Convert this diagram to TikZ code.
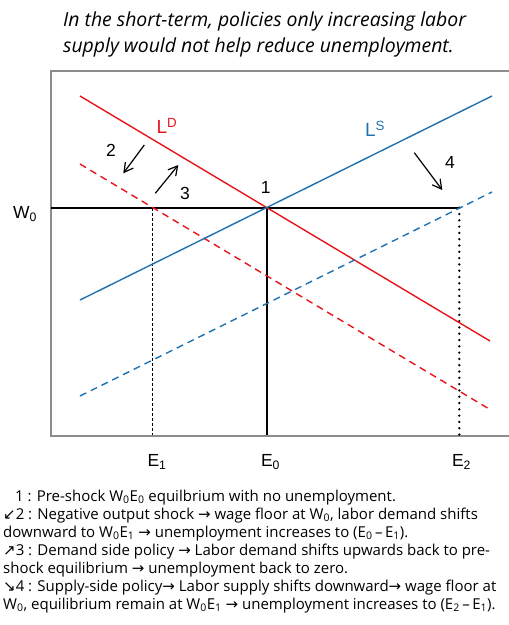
\documentclass[tikz,border=0pt]{standalone}
\usepackage{fontspec}
\setmainfont{Open Sans}
\newfontfamily\lab{Liberation Sans}
\newfontfamily\sym{DejaVu Sans}
\usetikzlibrary{arrows.meta}
\definecolor{ldred}{HTML}{E8141B}
\definecolor{lsblue}{HTML}{1F72B0}
\definecolor{axgray}{HTML}{8C8C8C}
\tikzset{
  curve/.style={line width=1.4pt},
  dcurve/.style={line width=1.4pt, dash pattern=on 7pt off 5pt},
  shiftarrow/.style={line width=1.2pt, -{Straight Barb[length=9pt,width=10pt]}},
  plab/.style={font=\lab\fontsize{17.5}{20}\selectfont, inner sep=0pt},
  note/.style={font=\fontsize{15}{18}\selectfont, anchor=base west, inner sep=0pt},
  ttl/.style={font=\itshape\fontsize{19.4}{23}\selectfont, anchor=base west, inner sep=0pt}
}
\begin{document}
\begin{tikzpicture}[x=1pt,y=-1pt]
\useasboundingbox (0,0) rectangle (509,625);
% title
\node[ttl] (t1) at (63,26) {In the short-term, policies only increasing labor};
\node[ttl] (t2) at (63,52) {supply would not help reduce unemployment.};
% frame
\coordinate (tl) at (50.5,70.5);
\coordinate (tr) at (509,70.5);
\coordinate (bl) at (50.5,436);
\coordinate (br) at (509,436);
\draw[axgray, line width=2pt] (tr) -- (tl) -- (bl) -- (br);
% key points
\coordinate (w0) at (50.5,207.7);
\coordinate (p1) at (266.7,207.7);
\coordinate (pE1) at (152.3,207.7);
\coordinate (pE2) at (459.3,207.7);
\coordinate (bE1) at (152.3,435);
\coordinate (bE0) at (266.7,435);
\coordinate (bE2) at (459.3,435);
% curves
\coordinate (lda) at (80,96);   \coordinate (ldb) at (490,341);
\coordinate (ldda) at (80,164); \coordinate (lddb) at (490,409.5);
\coordinate (lsa) at (80,300);  \coordinate (lsb) at (492,96);
\coordinate (lsda) at (80,396); \coordinate (lsdb) at (492,192);
\draw[black, line width=1.6pt] (w0) -- (pE2);
\draw[black, line width=1.2pt, dash pattern=on 3pt off 2pt] (pE1) -- (bE1);
\draw[black, line width=1.6pt] (p1) -- (bE0);
\draw[black, line width=2.6pt, line cap=round, dash pattern=on 0pt off 6.3pt] (pE2) -- (bE2);
\draw[ldred, curve] (lda) -- (ldb);
\draw[ldred, dcurve] (ldda) -- (lddb);
\draw[lsblue, curve] (lsa) -- (lsb);
\draw[lsblue, dcurve] (lsda) -- (lsdb);
% labels
\node[plab, text=ldred, font=\lab\fontsize{19}{22}\selectfont] (LD) at (167,126) {L\textsuperscript{D}};
\node[plab, text=lsblue, font=\lab\fontsize{19}{22}\selectfont] (LS) at (375,129) {L\textsuperscript{S}};
\node[plab] (W0) at (25,214) {W\textsubscript{0}};
\node[plab] (n1) at (265.7,187) {1};
\node[plab] (n2) at (111,150) {2};
\node[plab] (n3) at (185,193) {3};
\node[plab] (n4) at (450,162) {4};
\node[plab] (E1) at (157,462) {E\textsubscript{1}};
\node[plab] (E0) at (270.5,462) {E\textsubscript{0}};
\node[plab] (E2) at (461.5,462) {E\textsubscript{2}};
% arrows
\coordinate (a2s) at (144.3,145); \coordinate (a2e) at (123.3,173.3);
\coordinate (a3s) at (155.3,193.3); \coordinate (a3e) at (178.3,165);
\coordinate (a4s) at (414.3,152.7); \coordinate (a4e) at (442.3,190);
\draw[shiftarrow] (a2s) -- (a2e);
\draw[shiftarrow] (a3s) -- (a3e);
\draw[shiftarrow] (a4s) -- (a4e);
% notes
\node[note] (l1) at (15,501) {1 : Pre-shock W\textsubscript{0}E\textsubscript{0} equilbrium with no unemployment.};
\node[note] (l2) at (3,519) {{\sym ↙}2 :  Negative output shock {\sym →}  wage floor at W\textsubscript{0}, labor demand shifts};
\node[note] (l3) at (3,537) {downward  to W\textsubscript{0}E\textsubscript{1} {\sym →} unemployment increases to (E\textsubscript{0}\,–\,E\textsubscript{1}).};
\node[note] (l4) at (3,555) {{\sym ↗}3 :  Demand side policy {\sym →} Labor demand shifts upwards back to pre-};
\node[note] (l5) at (3,573) {shock equilibrium {\sym →}  unemployment back to zero.};
\node[note] (l6) at (3,591) {{\sym ↘}4 : Supply-side policy{\sym →} Labor supply shifts downward{\sym →}  wage floor at};
\node[note] (l7) at (3,609) {W\textsubscript{0}, equilibrium remain at W\textsubscript{0}E\textsubscript{1} {\sym →} unemployment increases to (E\textsubscript{2}\,–\,E\textsubscript{1}).};
\end{tikzpicture}
\end{document}
